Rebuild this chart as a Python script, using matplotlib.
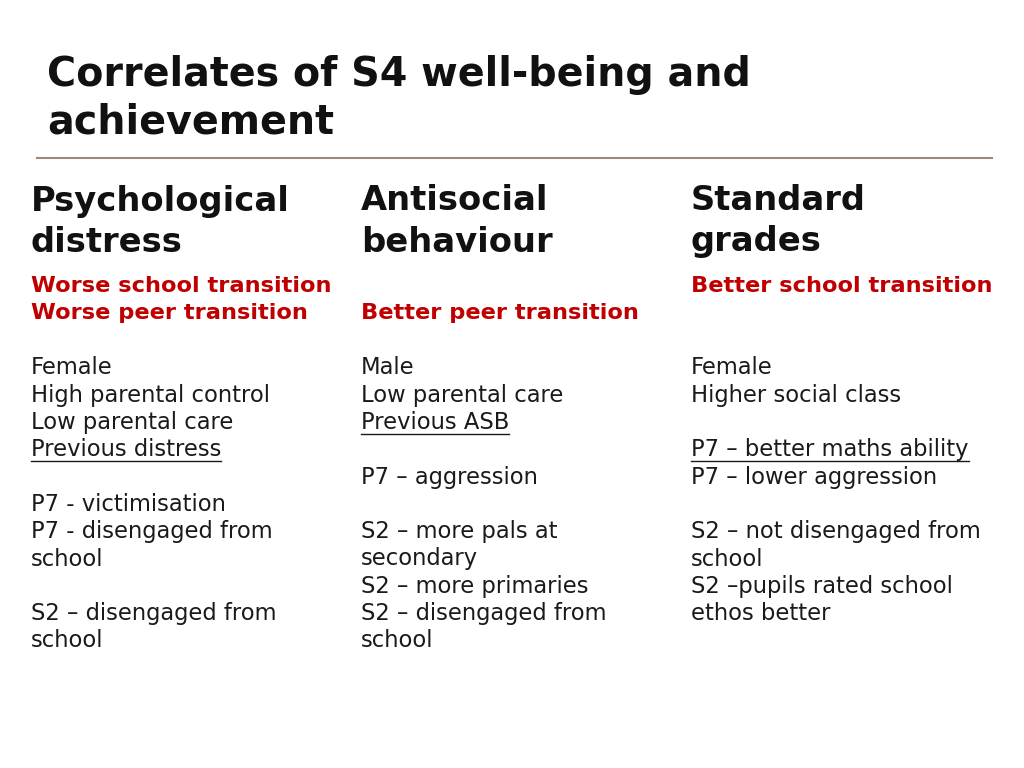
import matplotlib
matplotlib.use("Agg")
import matplotlib.pyplot as plt
from matplotlib.lines import Line2D

title_lines = ["Correlates of S4 well-being and", "achievement"]
headers = [["Psychological", "distress"], ["Antisocial", "behaviour"], ["Standard", "grades"]]
# '_' prefix = underlined; first two rows are red bold (transition findings)
col1 = ["Worse school transition", "Worse peer transition", "", "Female", "High parental control",
        "Low parental care", "_Previous distress", "", "P7 - victimisation", "P7 - disengaged from",
        "school", "", "S2 \u2013 disengaged from", "school"]
col2 = ["", "Better peer transition", "", "Male", "Low parental care", "_Previous ASB", "",
        "P7 \u2013 aggression", "", "S2 \u2013 more pals at", "secondary", "S2 \u2013 more primaries",
        "S2 \u2013 disengaged from", "school"]
col3 = ["Better school transition", "", "", "Female", "Higher social class", "",
        "_P7 \u2013 better maths ability", "P7 \u2013 lower aggression", "", "S2 \u2013 not disengaged from",
        "school", "S2 \u2013pupils rated school", "ethos better"]
columns = [col1, col2, col3]
red_rows = 2

W, H = 1024, 768
fig = plt.figure(figsize=(W / 100, H / 100), dpi=100)
fig.patch.set_facecolor("white")
font = "DejaVu Sans"

def fx(px): return px / W
def fy(py): return 1 - py / H

for i, t in enumerate(title_lines):
    fig.text(fx(47), fy(75 + 48 * i), t, fontsize=28.5, fontweight="bold", family=font,
             va="center", ha="left", color="#111111")
fig.add_artist(Line2D([fx(37), fx(992)], [fy(158), fy(158)], color="#a08878", lw=1.5))

col_x = [31, 361, 691]
underlines = []
for c, x in enumerate(col_x):
    for i, h in enumerate(headers[c]):
        fig.text(fx(x), fy(201 + 41 * i), h, fontsize=24.3, fontweight="bold", family=font,
                 va="center", ha="left", color="#111111")
    for r, line in enumerate(columns[c]):
        if not line:
            continue
        ul = line.startswith("_")
        txt = line[1:] if ul else line
        red = r < red_rows
        t = fig.text(fx(x), fy(286 + 27.3 * r), txt, fontsize=16.3 if not red else 16.2,
                     fontweight="bold" if red else "normal", family=font,
                     va="center", ha="left", color="#c00000" if red else "#1a1a1a")
        if ul:
            underlines.append((t, 286 + 27.3 * r))

fig.canvas.draw()
r = fig.canvas.get_renderer()
for t, py in underlines:
    bb = t.get_window_extent(r)
    fig.add_artist(Line2D([bb.x0 / W, bb.x1 / W], [fy(py + 11), fy(py + 11)], color="#1a1a1a", lw=1))

fig.savefig("out.png", dpi=100, facecolor="white")
